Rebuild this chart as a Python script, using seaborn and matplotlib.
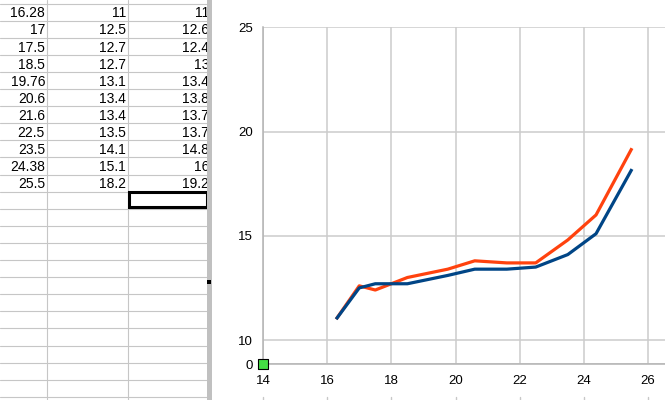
import numpy as np
import pandas as pd
import matplotlib
matplotlib.use("Agg")
import matplotlib.pyplot as plt
import matplotlib.transforms as mtransforms
from matplotlib.patches import Rectangle
import seaborn as sns

# ---- data (read from the spreadsheet / chart) ----
x_vals = [16.28, 17, 17.5, 18.5, 19.76, 20.6, 21.6, 22.5, 23.5, 24.38, 25.5]
series_a = [11, 12.5, 12.7, 12.7, 13.1, 13.4, 13.4, 13.5, 14.1, 15.1, 18.2]
series_b = [11, 12.6, 12.4, 13, 13.4, 13.8, 13.7, 13.7, 14.8, 16, 19.2]
marker_x = [14]
marker_y = [0]
x_ticks = [14, 16, 18, 20, 22, 24, 26]
y_ticks = [0, 10, 15, 20, 25]

sns.set_style("white")
plt.rcParams['font.family'] = ['Liberation Sans', 'DejaVu Sans']

W, H = 665, 400
fig = plt.figure(figsize=(W / 100, H / 100), dpi=100)

# ---- spreadsheet area (pixel coordinates) ----
bg = fig.add_axes([0, 0, 1, 1])
bg.set_xlim(0, W)
bg.set_ylim(H, 0)
bg.axis("off")

grid_c = "#c6c6c6"
row_lines = [3.5 + 17.1 * i for i in range(21)] + [363.3, 380.3, 397.3]
for yl in row_lines:
    bg.plot([0, 207], [yl, yl], color=grid_c, lw=0.8, zorder=1)
for xl in [47, 128]:
    bg.plot([xl, xl], [0, H], color=grid_c, lw=0.8, zorder=1)

col_right = [45, 126, 209]
for i, (xv, a, b) in enumerate(zip(x_vals, series_a, series_b)):
    base = row_lines[i + 1] - 3.3
    for cx, v in zip(col_right, (xv, a, b)):
        bg.text(cx, base, f"{v:g}", ha="right", va="baseline", fontsize=10,
                color="black", zorder=2)

# selected cell
bg.add_patch(Rectangle((128.8, 191.6), 78, 15.2, fill=False, ec="black",
                       lw=2.2, zorder=3))
# split bar
bg.add_patch(Rectangle((207, 0), 5, H, color="#c0c0c0", lw=0, zorder=4))
bg.add_patch(Rectangle((207, 279.5), 4, 4, color="black", lw=0, zorder=5))

# ---- chart ----
k = 0.1163
def fwd(y):
    y = np.asarray(y, dtype=float)
    return np.where(y >= 10, y, 10 - (10 - y) * k)
def inv(t):
    t = np.asarray(t, dtype=float)
    return np.where(t >= 10, t, 10 - (10 - t) / k)

ax = fig.add_axes([263 / W, 1 - 364.3 / H, (W - 263) / W, 337 / H])
ax.set_yscale("function", functions=(fwd, inv))

df = pd.DataFrame({"x": x_vals, "a": series_a, "b": series_b})
sns.lineplot(data=df, x="x", y="b", ax=ax, color="#ff420e", lw=2.3,
             solid_capstyle="butt", zorder=3)
sns.lineplot(data=df, x="x", y="a", ax=ax, color="#004586", lw=2.3,
             solid_capstyle="butt", zorder=4)
sns.scatterplot(x=marker_x, y=marker_y, ax=ax, marker="s", s=42,
                color="#44dd44", edgecolor="black", linewidth=0.8,
                zorder=6, clip_on=False)

ax.set_xlim(14, 14 + (W - 263) / (385 / 12))
ax.set_ylim(0, 25)
ax.set_xticks(x_ticks)
ax.set_yticks(y_ticks)
ax.set_xlabel("")
ax.set_ylabel("")
ax.grid(True, color="#cccccc", lw=1.1)
ax.set_axisbelow(True)
for s in ["top", "right"]:
    ax.spines[s].set_visible(False)
for s in ["left", "bottom"]:
    ax.spines[s].set_color("#b3b3b3")
    ax.spines[s].set_linewidth(1.1)
ax.tick_params(axis="both", direction="out", length=3.6, width=1.1,
               color="#b3b3b3", labelsize=9.5, labelcolor="black")
ax.tick_params(axis="y", pad=3.5)
ax.tick_params(axis="x", pad=4)
ax.patch.set_alpha(0)

# faint tick marks at the bottom edge (below the labels)
trans = mtransforms.blended_transform_factory(ax.transData, fig.transFigure)
for xt in x_ticks:
    ax.plot([xt, xt], [0, 3 / H], transform=trans, color="#c8c8c8", lw=1.0,
            clip_on=False)

fig.savefig("out.png", dpi=100)
